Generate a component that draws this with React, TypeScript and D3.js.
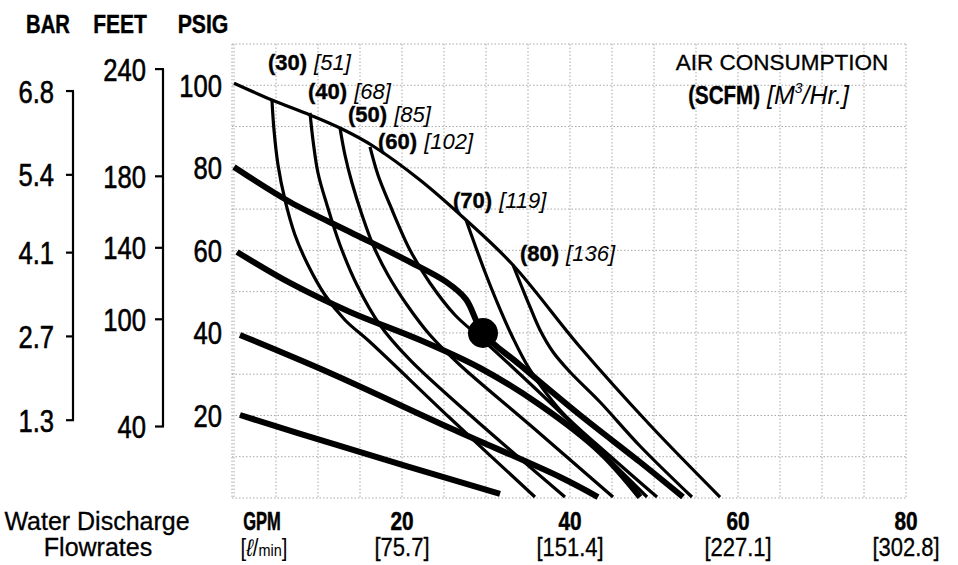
import React from "react";
import * as d3 from "d3";

// ---------- data ----------
const psigTicks = [20, 40, 60, 80, 100];
const feetTicks = [40, 100, 140, 180, 240];
const barTicks = [1.3, 2.7, 4.1, 5.4, 6.8];
const gpmTicks = [20, 40, 60, 80];
const lpmLabels = ["[75.7]", "[151.4]", "[227.1]", "[302.8]"];

// pressure curves [GPM, PSIG] (inlet air pressure 100, 80, 60, 40, 20 psig)
const psi100: [number, number][] = [[0, 100.5], [4.52, 96.44], [9.05, 92.8], [12.86, 89.41], [16.55, 85.29], [22.14, 77.05], [27.62, 67.36], [33.21, 56.46], [41.19, 36.59], [49.52, 17.69], [57.86, 0.24]];
const psi80: [number, number][] = [[0, 80.2], [6.67, 71.72], [13.81, 64.45], [20.95, 57.18], [25.3, 52.3], [27.6, 48.2], [29.64, 39.98], [34.05, 32.23], [41.19, 20.11], [48.33, 8.72], [53.45, 0.24]];
const psi60: [number, number][] = [[0.36, 59.61], [6.67, 52.1], [13.81, 45.07], [22.14, 38.28], [29.29, 31.5], [36.43, 22.53], [43.57, 11.15], [48.33, 0.24]];
const psi40: [number, number][] = [[0.71, 39.5], [11.43, 30.29], [25.71, 16.96], [38.81, 5.09], [43.33, 0.24]];
const psi20: [number, number][] = [[0.71, 20.11], [11.43, 13.33], [31.67, 0.97]];

// air consumption curves [GPM, PSIG] (30 ... 80 SCFM)
const air30: [number, number][] = [[4.52, 96.44], [4.76, 89.17], [5.24, 80.69], [6.07, 72.21], [7.26, 63.73], [8.81, 56.46], [10.83, 49.19], [13.21, 43.13], [16.19, 37.8], [25.71, 19.38], [35.83, 0.24]];
const air40: [number, number][] = [[9.05, 93.29], [9.4, 86.75], [10, 78.75], [11.07, 71], [12.62, 61.3], [14.64, 51.61], [17.38, 41.92], [20.95, 33.44], [28.1, 20.11], [39.4, 0.24]];
const air50: [number, number][] = [[12.62, 89.65], [13.21, 83.11], [14.05, 76.33], [15.24, 68.57], [16.55, 61.3], [18.33, 54.03], [20.6, 46.77], [23.33, 39.5], [26.9, 32.23], [35.24, 17.69], [45.12, 0.24]];
const air60: [number, number][] = [[16.19, 85.05], [17.14, 78.27], [18.57, 71], [20.95, 60.09], [23.33, 52.1], [26.31, 44.34], [29.64, 38.28], [38.81, 20.84], [49.17, 0.24]];
const air70: [number, number][] = [[27.62, 67.36], [28.69, 61.3], [29.88, 54.76], [31.31, 47.49], [33.1, 39.25], [35.24, 31.02], [38.81, 21.32], [44.76, 10.18], [50.36, 0.24]];
const air80: [number, number][] = [[33.21, 56.46], [34.17, 51.61], [35.24, 46.28], [36.43, 40.71], [37.98, 35.38], [40, 30.53], [43.57, 23.26], [48.33, 12.6], [54.52, 0.24]];

const airScfm = [30, 40, 50, 60, 70, 80];
const airM3 = [51, 68, 85, 102, 119, 136];
const airCurves = [air30, air40, air50, air60, air70, air80];
const pressureCurves = [psi100, psi80, psi60, psi40, psi20];

const examplePoint: [number, number] = [29.64, 39.98];

// ---------- layout ----------
const W = 958;
const H = 565;
const FONT = "'Liberation Sans', Arial, Helvetica, sans-serif";

const x = d3.scaleLinear().domain([0, 80]).range([234, 906]);
const y = d3.scaleLinear().domain([0, 110]).range([498, 44]);
const feetToPsi = (f: number) => f * 0.433;
const barToPsi = (b: number) => b * 14.5;

const line = d3
  .line<[number, number]>()
  .x((d) => x(d[0]))
  .y((d) => y(d[1]))
  .curve(d3.curveCatmullRom.alpha(0.5));

// label offsets (px) relative to the starting point of each air curve
const airLabelOffsets: [number, number][] = [[-4, -30], [-2, -14], [8, -6], [8, 2], [-13, -12], [7, -4]];

type TProps = {
  x: number;
  y: number;
  size: number;
  sx?: number;
  weight?: string | number;
  italic?: boolean;
  anchor?: "start" | "middle" | "end";
  heavy?: number;
  children: React.ReactNode;
};
const T = ({ x: tx, y: ty, size, sx = 1, weight = "normal", italic = false, anchor = "start", heavy = 0, children }: TProps) => (
  <text
    transform={`translate(${tx},${ty}) scale(${sx},1)`}
    fontSize={size}
    fontWeight={weight}
    fontStyle={italic ? "italic" : "normal"}
    textAnchor={anchor}
    fontFamily={FONT}
    fill="#000"
    stroke={heavy ? "#000" : "none"}
    strokeWidth={heavy}
  >
    {children}
  </text>
);

export default function App() {
  const gridX = d3.range(0, 81, 5);
  const gridY = d3.range(0, 111, 10);
  const numSize = 32;
  const numSx = 0.8;
  const numHeavy = 0.6;

  return (
    <svg
      width={W}
      height={H}
      viewBox={`0 0 ${W} ${H}`}
      style={{ position: "absolute", left: 0, top: 0, background: "#fff", display: "block" }}
    >
      <rect x={0} y={0} width={W} height={H} fill="#fff" />

      {/* grid */}
      <g stroke="#a8a8a8" strokeWidth={1} strokeDasharray="1.5 2">
        {gridX.map((g) => (
          <line key={"gx" + g} x1={x(g)} x2={x(g)} y1={y(110)} y2={y(0)} />
        ))}
        {gridY.map((p) => (
          <line key={"gy" + p} x1={x(0) - 2} x2={x(80)} y1={y(p)} y2={y(p)} />
        ))}
        <line x1={x(0) - 2} x2={x(0) - 2} y1={y(110)} y2={y(0)} />
      </g>

      {/* axis titles */}
      <T x={48} y={33} size={25} sx={0.81} weight="bold" anchor="middle" heavy={0.4}>BAR</T>
      <T x={120} y={33} size={25} sx={0.84} weight="bold" anchor="middle" heavy={0.4}>FEET</T>
      <T x={203} y={33} size={25} sx={0.85} weight="bold" anchor="middle" heavy={0.4}>PSIG</T>

      {/* BAR axis */}
      <g stroke="#000" strokeWidth={2.2}>
        <line x1={73} x2={73} y1={y(barToPsi(barTicks[barTicks.length - 1]))} y2={y(barToPsi(barTicks[0]))} />
        {barTicks.map((b) => (
          <line key={"bt" + b} x1={66} x2={74} y1={y(barToPsi(b))} y2={y(barToPsi(b))} />
        ))}
      </g>
      {barTicks.map((b) => (
        <T key={"bl" + b} x={54} y={y(barToPsi(b)) + numSize * 0.36} size={numSize} sx={numSx} anchor="end" heavy={numHeavy}>
          {b.toFixed(1)}
        </T>
      ))}

      {/* FEET axis */}
      <g stroke="#000" strokeWidth={2.2}>
        <line x1={163} x2={163} y1={y(feetToPsi(feetTicks[feetTicks.length - 1]))} y2={y(feetToPsi(feetTicks[0]))} />
        {feetTicks.map((f) => (
          <line key={"ft" + f} x1={155} x2={164} y1={y(feetToPsi(f))} y2={y(feetToPsi(f))} />
        ))}
      </g>
      {feetTicks.map((f) => (
        <T key={"fl" + f} x={146} y={y(feetToPsi(f)) + numSize * 0.36} size={numSize} sx={numSx} anchor="end" heavy={numHeavy}>
          {String(f)}
        </T>
      ))}

      {/* PSIG labels */}
      {psigTicks.map((p) => (
        <T key={"pl" + p} x={222} y={y(p) + numSize * 0.36} size={numSize} sx={numSx} anchor="end" heavy={numHeavy}>
          {String(p)}
        </T>
      ))}

      {/* curves */}
      <g fill="none" stroke="#000" strokeLinecap="butt" strokeLinejoin="round">
        {pressureCurves.map((c, i) => (
          <path key={"pc" + i} d={line(c) || ""} strokeWidth={i === 0 ? 3.2 : 6} />
        ))}
        {airCurves.map((c, i) => (
          <path key={"ac" + i} d={line(c) || ""} strokeWidth={3.2} />
        ))}
      </g>

      <circle cx={x(examplePoint[0])} cy={y(examplePoint[1])} r={15} fill="#000" />

      {/* air labels */}
      {airCurves.map((c, i) => {
        const [ox, oy] = airLabelOffsets[i];
        return (
          <text
            key={"al" + i}
            x={x(c[0][0]) + ox}
            y={y(c[0][1]) + oy}
            fontSize={22}
            fontFamily={FONT}
            fill="#000"
          >
            <tspan fontWeight="bold" stroke="#000" strokeWidth={0.4}>({airScfm[i]})</tspan>
            <tspan dx={7} fontStyle="italic">[{airM3[i]}]</tspan>
          </text>
        );
      })}

      {/* air consumption title */}
      <text x={782} y={70} fontSize={22.5} fontFamily={FONT} textAnchor="middle" fill="#000" stroke="#000" strokeWidth={0.3}>
        AIR CONSUMPTION
      </text>
      <text transform="translate(760,104) scale(0.82,1)" fontSize={25} fontWeight="bold" fontFamily={FONT} textAnchor="end" fill="#000" stroke="#000" strokeWidth={0.4}>
        (SCFM)
      </text>
      <text x={767} y={104} fontSize={25} fontStyle="italic" fontFamily={FONT} fill="#000">
        <tspan>[M</tspan>
        <tspan fontSize={14} dy={-11}>3</tspan>
        <tspan dy={11}>/Hr.]</tspan>
      </text>

      {/* x axis labels */}
      <T x={97} y={530} size={25} anchor="middle" heavy={0.3}>Water Discharge</T>
      <T x={98} y={556} size={25} anchor="middle" heavy={0.3}>Flowrates</T>
      <T x={262} y={530} size={25} sx={0.66} weight="bold" anchor="middle" heavy={0.5}>GPM</T>
      <text transform="translate(264,556) scale(0.85,1)" fontSize={24} fontFamily={FONT} textAnchor="middle" fill="#000">
        <tspan>[</tspan>
        <tspan fontStyle="italic">ℓ</tspan>
        <tspan>/</tspan>
        <tspan fontSize={17}>min</tspan>
        <tspan>]</tspan>
      </text>
      {gpmTicks.map((g, i) => (
        <g key={"gt" + g}>
          <T x={x(g)} y={530} size={26} sx={0.8} weight="bold" anchor="middle" heavy={0.5}>{String(g)}</T>
          <T x={x(g)} y={556} size={25} sx={0.88} anchor="middle" heavy={0.3}>{lpmLabels[i]}</T>
        </g>
      ))}
    </svg>
  );
}
